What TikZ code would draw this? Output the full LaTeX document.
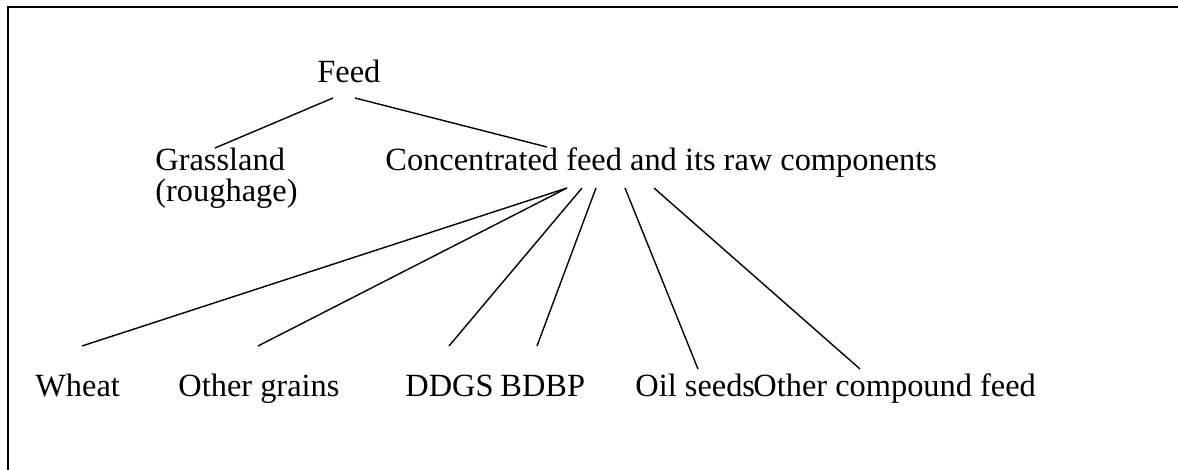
\documentclass[tikz,border=0pt]{standalone}
\usepackage{fontspec}
\setmainfont{Liberation Serif}
\tikzset{
  item/.style={anchor=base west, inner sep=0pt, align=left,
    font=\fontsize{16.2}{15.5}\selectfont},
  branch/.style={line width=0.7pt},
}
\begin{document}
\begin{tikzpicture}[x=0.5pt, y=-0.5pt]
  \useasboundingbox (0,0) rectangle (1178,470);
  \clip (0,0) rectangle (1178,470);
  \draw[line width=1pt] (8,7) rectangle (1200,500);

  % first two levels
  \node[item] (feed) at (317,83) {Feed};
  \node[item] (grass) at (155,202) {Grassland\\(roughage)};
  \node[item] (conc) at (385,171) {Concentrated feed and its raw components};

  % components
  \node[item] (wheat) at (35,396) {Wheat};
  \node[item] (grains) at (178,396) {Other grains};
  \node[item] (ddgs) at (405,396) {DDGS};
  \node[item] (bdbp) at (500,396) {BDBP};
  \node[item] (oil) at (635,396) {Oil seeds};
  \node[item] (compound) at (753,396) {Other compound feed};

  \draw[branch] ([shift={(16,15)}]feed.base west) -- ([shift={(60,-54)}]grass.base west);
  \draw[branch] ([shift={(38,15)}]feed.base west) -- ([shift={(162,-24)}]conc.base west);

  \draw[branch] ([shift={(182,17)}]conc.base west) -- ([shift={(47,-50)}]wheat.base west);
  \draw[branch] ([shift={(182,17)}]conc.base west) -- ([shift={(80,-50)}]grains.base west);
  \draw[branch] ([shift={(197,17)}]conc.base west) -- ([shift={(44,-50)}]ddgs.base west);
  \draw[branch] ([shift={(211,17)}]conc.base west) -- ([shift={(37,-50)}]bdbp.base west);
  \draw[branch] ([shift={(240,17)}]conc.base west) -- ([shift={(63,-27)}]oil.base west);
  \draw[branch] ([shift={(269,17)}]conc.base west) -- ([shift={(107,-27)}]compound.base west);
\end{tikzpicture}
\end{document}
